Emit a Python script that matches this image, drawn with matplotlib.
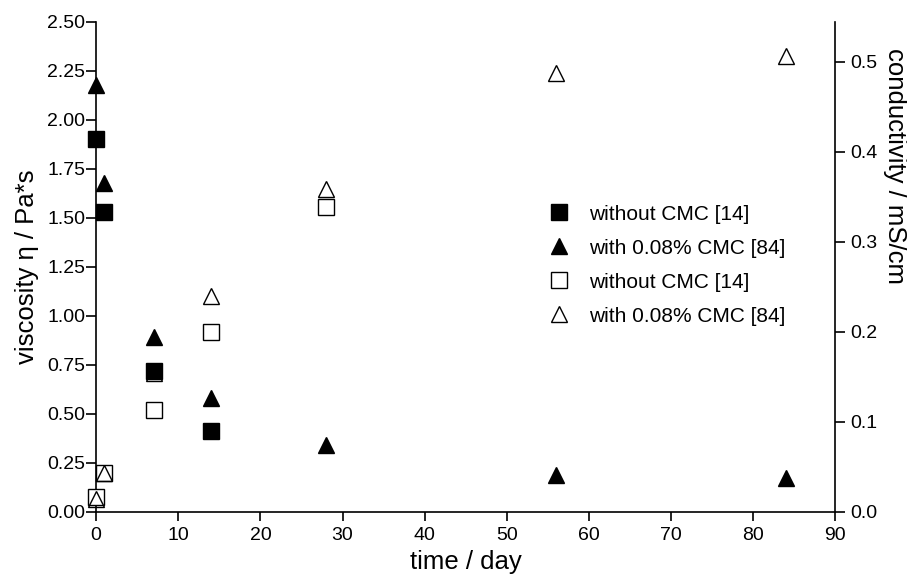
import matplotlib

matplotlib.use("Agg")

import matplotlib.pyplot as plt

plt.rcParams["font.family"] = ["Liberation Sans", "DejaVu Sans"]
plt.rcParams["font.size"] = 14

# viscosity (left axis), filled markers
days_no_cmc = [0, 1, 7, 14]
visc_no_cmc = [1.90, 1.53, 0.72, 0.41]
days_cmc = [0, 1, 7, 14, 28, 56, 84]
visc_cmc = [2.18, 1.68, 0.89, 0.58, 0.34, 0.19, 0.17]

# conductivity (right axis), open markers
cond_days_no_cmc = [0, 1, 7, 14, 28]
cond_no_cmc = [0.017, 0.043, 0.113, 0.200, 0.339]
cond_days_cmc = [0, 1, 7, 14, 28, 56, 84]
cond_cmc = [0.014, 0.043, 0.154, 0.240, 0.359, 0.488, 0.506]

label_no_cmc = "without CMC [14]"
label_cmc = "with 0.08% CMC [84]"

fig = plt.figure(figsize=(9.07, 5.77), dpi=100)
ax = fig.add_axes([0.106, 0.113, 0.815, 0.849])
ax2 = ax.twinx()

h1, = ax.plot(days_no_cmc, visc_no_cmc, "s", color="black", markersize=11.5, linestyle="none", label=label_no_cmc)
h2, = ax.plot(days_cmc, visc_cmc, "^", color="black", markersize=11.5, linestyle="none", label=label_cmc)
h3, = ax2.plot(cond_days_no_cmc, cond_no_cmc, "s", markerfacecolor="white", markeredgecolor="black",
               markeredgewidth=1.0, markersize=12, linestyle="none", label=label_no_cmc)
h4, = ax2.plot(cond_days_cmc, cond_cmc, "^", markerfacecolor="none", markeredgecolor="black",
               markeredgewidth=1.0, markersize=12, linestyle="none", label=label_cmc)

ax.set_xlim(0, 90)
ax.set_ylim(0, 2.5)
ax2.set_ylim(0, 0.5444)
ax.set_xticks(range(0, 91, 10))
ax.set_yticks([i * 0.25 for i in range(11)])
ax.set_yticklabels([f"{i * 0.25:.2f}" for i in range(11)])
ax2.set_yticks([0.0, 0.1, 0.2, 0.3, 0.4, 0.5])
ax2.set_yticklabels(["0.0", "0.1", "0.2", "0.3", "0.4", "0.5"])

for a in (ax, ax2):
    a.spines["top"].set_visible(False)
    for s in a.spines.values():
        s.set_linewidth(1.2)
        s.set_clip_on(False)
ax.spines["right"].set_visible(False)
ax2.spines["left"].set_visible(False)
ax2.spines["bottom"].set_visible(False)
ax.tick_params(axis="x", direction="out", length=6.5, width=1.2, labelsize=14, pad=4.5)
ax.tick_params(axis="y", direction="out", length=7, width=1.2, labelsize=14, pad=1)
ax2.tick_params(axis="y", direction="out", length=7, width=1.2, labelsize=14, pad=3.5)
for h in (h1, h2, h3, h4):
    h.set_clip_on(False)

ax.set_xlabel("time / day", fontsize=18.5, labelpad=4)
ax.set_ylabel("viscosity \u03b7 / Pa*s", fontsize=18.5, labelpad=6)
ax2.set_ylabel("conductivity / mS/cm", fontsize=18.5, rotation=270)
ax2.yaxis.set_label_coords(1.097, 0.706)

ax2.legend(handles=[h1, h2, h3, h4], loc="upper left", bbox_to_anchor=(0.612, 0.627),
           frameon=False, fontsize=15, handlelength=1.0, handletextpad=0.95,
           labelspacing=0.72, borderaxespad=0, borderpad=0)

fig.savefig("out.png", dpi=100)
